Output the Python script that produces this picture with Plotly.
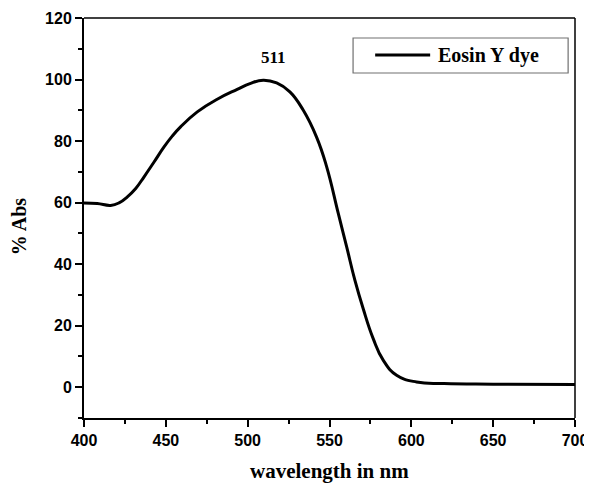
import plotly.graph_objects as go

wavelength = [400.0, 408.1, 416.3, 421.4, 426.5, 431.6, 436.7, 442.8, 448.9, 453.9, 459.0, 469.2, 481.4, 493.6, 501.4, 509.5, 517.7, 525.8, 534.0, 542.1, 548.2, 555.4, 560.5, 565.5, 570.6, 576.7, 582.8, 591.0, 603.2, 620.0, 650.0, 700.0]
absorbance = [59.9, 59.7, 59.1, 59.9, 61.9, 64.6, 68.4, 73.2, 78.1, 81.6, 84.6, 89.5, 93.6, 96.8, 98.7, 99.8, 98.9, 96.0, 90.0, 81.3, 71.8, 56.4, 45.6, 34.8, 25.5, 15.8, 8.8, 3.9, 1.7, 1.2, 1.0, 0.9]

x_ticks = [400, 450, 500, 550, 600, 650, 700]
y_ticks = [0, 20, 40, 60, 80, 100, 120]
peak_label = "511"
series_name = "Eosin Y dye"
x_title = "wavelength in nm"
y_title = "% Abs"

serif = "Liberation Serif, Times New Roman, serif"
tick_font = dict(family="Liberation Sans, Arial, sans-serif", size=16, color="black", weight="bold")

fig = go.Figure()
fig.add_trace(go.Scatter(
    x=wavelength, y=absorbance, mode="lines", name=series_name, showlegend=False,
    line=dict(color="black", width=3, shape="spline", smoothing=1.3),
))

fig.update_layout(
    width=584, height=476,
    margin=dict(l=76, r=17, t=10, b=66, autoexpand=False),
    plot_bgcolor="white", paper_bgcolor="white",
    showlegend=False,
    xaxis=dict(
        range=[400, 700], tickvals=x_ticks, ticktext=[str(v) for v in x_ticks],
        showgrid=False, zeroline=False, showline=True, linecolor="black", linewidth=2,
        ticks="outside", ticklen=7, tickwidth=2, tickcolor="black",
        minor=dict(dtick=25, ticks="outside", ticklen=4, tickwidth=2, tickcolor="black", showgrid=False),
        tickfont=tick_font, title=None, automargin=False,
    ),
    yaxis=dict(
        range=[-10, 120], tickvals=y_ticks, ticktext=[str(v) for v in y_ticks],
        showgrid=False, zeroline=False, showline=True, linecolor="black", linewidth=2,
        ticks="outside", ticklen=7, tickwidth=2, tickcolor="black",
        minor=dict(dtick=10, ticks="outside", ticklen=4, tickwidth=2, tickcolor="black", showgrid=False),
        tickfont=tick_font, title=None, automargin=False,
    ),
)

# thin top and right frame
fig.add_shape(type="line", xref="paper", yref="paper", x0=0, x1=1, y0=1, y1=1, line=dict(color="black", width=1.5))
fig.add_shape(type="line", xref="paper", yref="paper", x0=1, x1=1, y0=0, y1=1, line=dict(color="black", width=1.5))

# legend box (drawn)
fig.add_shape(type="rect", xref="paper", yref="paper", x0=0.548, x1=0.986, y0=0.8625, y1=0.95,
              line=dict(color="#707070", width=1.2), fillcolor="white")
fig.add_shape(type="line", xref="paper", yref="paper", x0=0.593, x1=0.705, y0=0.9075, y1=0.9075,
              line=dict(color="black", width=3))
fig.add_annotation(x=0.717, y=0.9075, xref="paper", yref="paper", text="<b>" + series_name + "</b>",
                   showarrow=False, xanchor="left", yanchor="middle",
                   font=dict(family=serif, size=20, color="black"))

fig.add_annotation(x=516, y=107.2, xref="x", yref="y", text="<b>" + peak_label + "</b>", showarrow=False,
                   font=dict(family=serif, size=17, color="black"))
fig.add_annotation(x=0.501, y=-0.1325, xref="paper", yref="paper", text="<b>" + x_title + "</b>", showarrow=False,
                   yanchor="middle", font=dict(family=serif, size=21, color="black"))
fig.add_annotation(x=-0.132, y=0.4775, xref="paper", yref="paper", text="<b>" + y_title + "</b>", showarrow=False,
                   textangle=-90, xanchor="center", yanchor="middle", font=dict(family=serif, size=20, color="black"))

fig.write_html("out.html")
